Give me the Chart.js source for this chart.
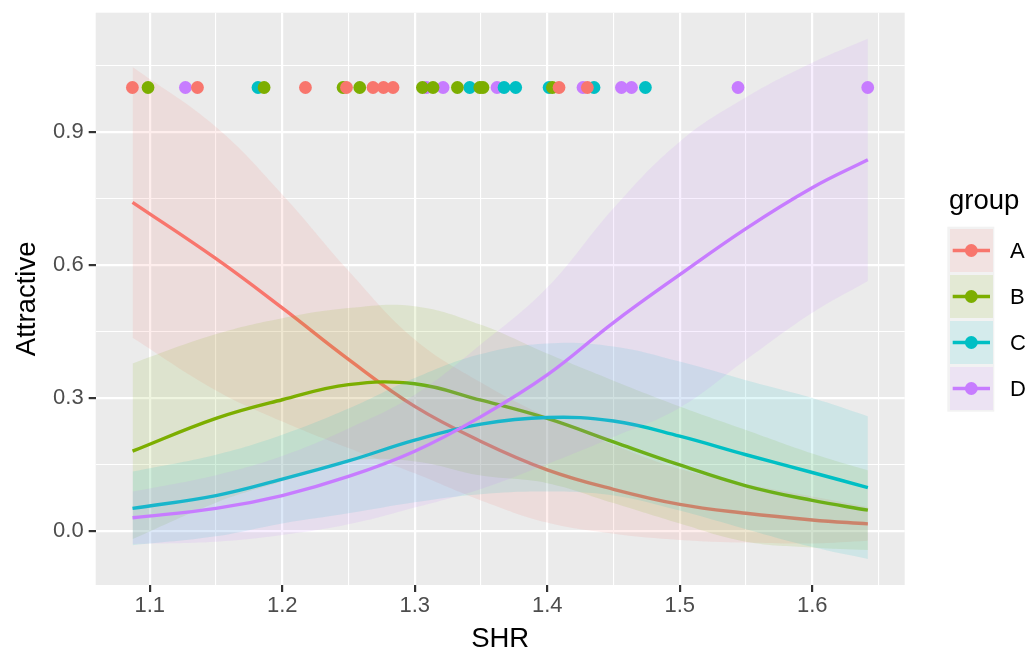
<!DOCTYPE html>
<html>
<head>
<meta charset="utf-8">
<script src="https://cdn.jsdelivr.net/npm/chart.js@4.4.1/dist/chart.umd.min.js"></script>
<style>
html,body{margin:0;padding:0;background:#ffffff;}
#wrap{position:relative;width:1026px;height:650px;overflow:hidden;}
#c{position:absolute;left:0;top:0;}
#legend{position:absolute;left:0;top:0;pointer-events:none;}
</style>
</head>
<body>
<div id="wrap">
<canvas id="c" width="1026" height="650"></canvas>
<svg id="legend" width="1026" height="650" xmlns="http://www.w3.org/2000/svg"></svg>
</div>
<script>
// ---- data ----
const groups = ['A', 'B', 'C', 'D'];
const groupColors = ['#F8766D', '#7CAE00', '#00BFC4', '#C77CFF'];

// SHR values where the fitted curves and confidence bands were read
const shrGrid = [1.087, 1.15, 1.2, 1.25, 1.3, 1.35, 1.4, 1.45, 1.5, 1.55, 1.6, 1.642];

const fitA  = [0.741, 0.614, 0.503, 0.387, 0.281, 0.202, 0.138, 0.094, 0.060, 0.040, 0.025, 0.016];
const lowA  = [0.436, 0.317, 0.247, 0.187, 0.130, 0.069, 0.019, -0.006, -0.020, -0.026, -0.028, -0.022];
const highA = [1.046, 0.911, 0.759, 0.587, 0.432, 0.335, 0.257, 0.194, 0.140, 0.106, 0.078, 0.054];

const fitB  = [0.180, 0.254, 0.296, 0.330, 0.332, 0.295, 0.254, 0.201, 0.149, 0.102, 0.069, 0.047];
const lowB  = [-0.018, 0.064, 0.112, 0.157, 0.157, 0.125, 0.108, 0.063, 0.017, -0.024, -0.037, -0.043];
const highB = [0.378, 0.444, 0.480, 0.503, 0.507, 0.465, 0.400, 0.339, 0.281, 0.228, 0.175, 0.137];

const fitC  = [0.051, 0.080, 0.117, 0.158, 0.205, 0.241, 0.256, 0.248, 0.214, 0.172, 0.132, 0.098];
const lowC  = [-0.032, -0.012, 0.017, 0.040, 0.065, 0.083, 0.089, 0.080, 0.046, 0.004, -0.036, -0.063];
const highC = [0.134, 0.172, 0.217, 0.276, 0.345, 0.399, 0.423, 0.416, 0.382, 0.340, 0.300, 0.259];

const fitD  = [0.030, 0.051, 0.080, 0.123, 0.180, 0.258, 0.352, 0.470, 0.578, 0.682, 0.774, 0.837];
const lowD  = [-0.029, -0.024, -0.009, 0.015, 0.053, 0.095, 0.151, 0.212, 0.278, 0.386, 0.492, 0.564];
const highD = [0.089, 0.126, 0.169, 0.231, 0.307, 0.421, 0.549, 0.728, 0.878, 0.978, 1.056, 1.110];

// observed SHR values with Attractive = 1
const obsA = [1.0869, 1.1360, 1.2175, 1.2485, 1.2685, 1.2764, 1.2836, 1.4089, 1.4303];
const obsB = [1.0987, 1.1863, 1.2459, 1.2585, 1.3058, 1.3138, 1.3322, 1.3491, 1.3515, 1.4039];
const obsC = [1.1817, 1.3415, 1.3674, 1.3762, 1.4014, 1.4353, 1.4741];
const obsD = [1.1269, 1.3088, 1.3214, 1.3621, 1.4270, 1.4560, 1.4636, 1.5440, 1.6419];
const obsValue = 1;

// axes
const xTickValues = [1.1, 1.15, 1.2, 1.25, 1.3, 1.35, 1.4, 1.45, 1.5, 1.55, 1.6, 1.65];
const xMajor = [1.1, 1.2, 1.3, 1.4, 1.5, 1.6];
const xMajorLabels = ['1.1', '1.2', '1.3', '1.4', '1.5', '1.6'];
const yTickValues = [0, 0.15, 0.3, 0.45, 0.6, 0.75, 0.9, 1.05];
const yMajor = [0, 0.3, 0.6, 0.9];
const yMajorLabels = ['0.0', '0.3', '0.6', '0.9'];
const xTitle = 'SHR';
const yTitle = 'Attractive';
const legendTitle = 'group';

// ---- drawing ----
const FONT = "'Liberation Sans', Arial, Helvetica, sans-serif";
const BAND_ALPHA = 0.12;

function rgba(hex, a) {
  const n = parseInt(hex.slice(1), 16);
  return 'rgba(' + ((n >> 16) & 255) + ',' + ((n >> 8) & 255) + ',' + (n & 255) + ',' + a + ')';
}
function toXY(xs, ys) { return xs.map((x, i) => ({ x: x, y: ys[i] })); }
function majorIndex(v, list) {
  for (let k = 0; k < list.length; k++) if (Math.abs(v - list[k]) < 1e-6) return k;
  return -1;
}

const fits = [fitA, fitB, fitC, fitD];
const lows = [lowA, lowB, lowC, lowD];
const highs = [highA, highB, highC, highD];
const obs = [obsA, obsB, obsC, obsD];

const datasets = [];
groups.forEach((g, i) => {
  const lowIdx = datasets.length;
  const ord = 20 - 4 * i;
  datasets.push({
    label: g + ' lower', data: toXY(shrGrid, lows[i]), borderWidth: 0, borderColor: 'rgba(0,0,0,0)',
    pointRadius: 0, fill: false, order: ord, tension: 0.4
  });
  datasets.push({
    label: g + ' upper', data: toXY(shrGrid, highs[i]), borderWidth: 0, borderColor: 'rgba(0,0,0,0)',
    pointRadius: 0, fill: { target: lowIdx }, backgroundColor: rgba(groupColors[i], BAND_ALPHA),
    order: ord, tension: 0.4
  });
  datasets.push({
    label: g, data: toXY(shrGrid, fits[i]), borderColor: groupColors[i], borderWidth: 3.4,
    pointRadius: 0, fill: false, order: ord - 1, tension: 0.4, borderCapStyle: 'butt'
  });
});
groups.forEach((g, i) => {
  datasets.push({
    label: g + ' observed', data: obs[i].map(x => ({ x: x, y: obsValue })), showLine: false,
    pointRadius: 6.4, pointHoverRadius: 6.4, pointBackgroundColor: groupColors[i],
    pointBorderWidth: 0, borderColor: groupColors[i], order: 0
  });
});

const panelBg = {
  id: 'panelBg',
  beforeDraw(chart) {
    const { ctx, chartArea: a } = chart;
    ctx.save();
    ctx.fillStyle = '#FFFFFF';
    ctx.fillRect(0, 0, chart.width, chart.height);
    ctx.fillStyle = '#EBEBEB';
    ctx.fillRect(a.left, a.top, a.right - a.left, a.bottom - a.top);
    ctx.restore();
  }
};

Chart.defaults.font.family = FONT;

new Chart(document.getElementById('c'), {
  type: 'line',
  data: { datasets: datasets },
  plugins: [panelBg],
  options: {
    responsive: false,
    devicePixelRatio: 1,
    animation: false,
    events: [],
    layout: { padding: { left: 0, top: 12.7, right: 121.3, bottom: 0 } },
    plugins: { legend: { display: false }, tooltip: { enabled: false } },
    scales: {
      x: {
        type: 'linear', min: 1.0592, max: 1.6698,
        afterBuildTicks: s => { s.ticks = xTickValues.map(v => ({ value: v })); },
        afterFit: s => { s.height = 65; s.paddingLeft = 0; s.paddingRight = 0; },
        ticks: {
          autoSkip: false, maxRotation: 0, minRotation: 0, padding: 1, color: '#4D4D4D',
          font: { size: 22 },
          callback: v => { const k = majorIndex(v, xMajor); return k >= 0 ? xMajorLabels[k] : ''; }
        },
        grid: {
          color: '#FFFFFF',
          lineWidth: c => (c.tick && majorIndex(c.tick.value, xMajor) >= 0) ? 2.2 : 1.1,
          drawTicks: true, tickLength: 7, tickWidth: 2.2,
          tickColor: c => (c.tick && majorIndex(c.tick.value, xMajor) >= 0) ? '#333333' : 'rgba(0,0,0,0)'
        },
        border: { display: false },
        title: { display: true, text: xTitle, color: '#000000', font: { size: 27.5, lineHeight: 0.8 }, padding: { top: 0, bottom: 0 } }
      },
      y: {
        type: 'linear', min: -0.1217, max: 1.1687,
        afterBuildTicks: s => { s.ticks = yTickValues.map(v => ({ value: v })); },
        afterFit: s => { s.width = 95.7; s.paddingTop = 0; s.paddingBottom = 0; },
        ticks: {
          autoSkip: false, padding: 5, color: '#4D4D4D', font: { size: 22 },
          callback: v => { const k = majorIndex(v, yMajor); return k >= 0 ? yMajorLabels[k] : ''; }
        },
        grid: {
          color: '#FFFFFF',
          lineWidth: c => (c.tick && majorIndex(c.tick.value, yMajor) >= 0) ? 2.2 : 1.1,
          drawTicks: true, tickLength: 7, tickWidth: 2.2,
          tickColor: c => (c.tick && majorIndex(c.tick.value, yMajor) >= 0) ? '#333333' : 'rgba(0,0,0,0)'
        },
        border: { display: false },
        title: { display: true, text: yTitle, color: '#000000', font: { size: 27.5, lineHeight: 1 }, padding: { top: 14, bottom: 0 } }
      }
    }
  }
});

// ---- legend (SVG, real text) ----
(function () {
  const NS = 'http://www.w3.org/2000/svg';
  const svg = document.getElementById('legend');
  function el(tag, attrs, text) {
    const e = document.createElementNS(NS, tag);
    for (const k in attrs) e.setAttribute(k, attrs[k]);
    if (text !== undefined) e.textContent = text;
    svg.appendChild(e);
    return e;
  }
  el('text', { x: 949, y: 209, 'font-family': FONT, 'font-size': 27.5, fill: '#000000' }, legendTitle);
  el('rect', { x: 947.3, y: 226.7, width: 47, height: 46 * groups.length + 1, fill: '#F2F2F2' });
  groups.forEach((g, i) => {
    const top = 229 + 46 * i;
    const cy = top + 21.5;
    el('rect', { x: 950, y: top, width: 43, height: 43, fill: groupColors[i], 'fill-opacity': BAND_ALPHA });
    el('line', { x1: 952.7, x2: 990, y1: cy, y2: cy, stroke: groupColors[i], 'stroke-width': 3.4 });
    el('circle', { cx: 971.3, cy: cy, r: 6.4, fill: groupColors[i] });
    el('text', { x: 1010, y: cy + 7.9, 'font-family': FONT, 'font-size': 22, fill: '#000000' }, g);
  });
})();
</script>
</body>
</html>
